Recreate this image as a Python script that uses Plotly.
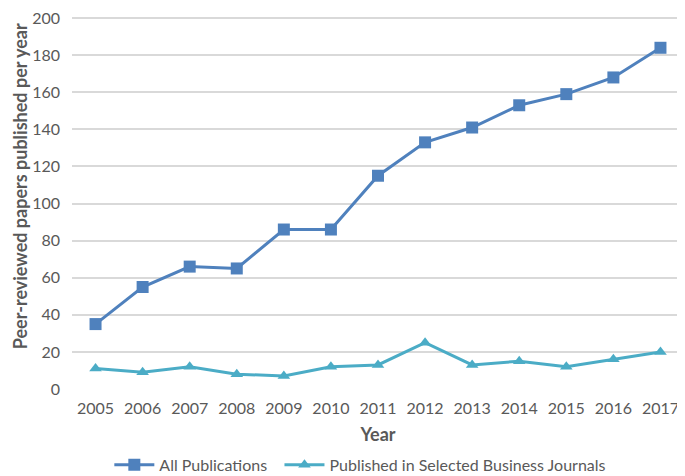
import plotly.graph_objects as go

years = [2005, 2006, 2007, 2008, 2009, 2010, 2011, 2012, 2013, 2014, 2015, 2016, 2017]
all_pubs = [35, 55, 66, 65, 86, 86, 115, 133, 141, 153, 159, 168, 184]
business = [11, 9, 12, 8, 7, 12, 13, 25, 13, 15, 12, 16, 20]

font_family = "Lato, Open Sans, sans-serif"
grey = "#595959"

fig = go.Figure()
fig.add_trace(go.Scatter(
    x=years, y=all_pubs, name="All Publications", mode="lines+markers",
    line=dict(color="#4F81BD", width=3),
    marker=dict(symbol="square", size=12, color="#4F81BD"),
    cliponaxis=False, legend="legend",
))
fig.add_trace(go.Scatter(
    x=years, y=business, name="Published in Selected Business Journals", mode="lines+markers",
    line=dict(color="#4BACC6", width=3),
    marker=dict(symbol="triangle-up", size=11, color="#4BACC6"),
    cliponaxis=False, legend="legend2",
))

legend_common = dict(orientation="h", xanchor="left", y=-0.204, yanchor="middle",
                     font=dict(size=16, color=grey), itemwidth=40,
                     bgcolor="rgba(0,0,0,0)")

# page body has an 8px margin, so the figure is drawn at (8, 8)
fig.update_layout(
    width=677, height=468,
    margin=dict(l=64, r=1, t=9, b=87, autoexpand=False),
    plot_bgcolor="white", paper_bgcolor="white",
    font=dict(family=font_family, size=16, color=grey),
    showlegend=True,
    legend=dict(x=0.061, **legend_common),
    legend2=dict(x=0.339, **legend_common),
    xaxis=dict(
        range=[2004.5, 2017.5], tickmode="array", tickvals=years,
        ticktext=[str(y) for y in years], showgrid=False, zeroline=False,
        showline=False, ticks="", automargin=False, ticklabeloverflow="allow",
        ticklabelstandoff=8,
        title=dict(text="<b>Year</b>", font=dict(size=18, color=grey), standoff=12),
    ),
    yaxis=dict(
        range=[0, 200.6], tickmode="linear", tick0=0, dtick=20,
        showgrid=True, gridcolor="#D9D9D9", gridwidth=1.5,
        zeroline=False, showline=False, ticks="", ticklabelstandoff=11, automargin=False,
        ticklabeloverflow="allow",
    ),
    annotations=[dict(
        text="<b>Peer-reviewed papers published per year</b>", textangle=-90,
        xref="paper", yref="paper", x=-0.085, y=0.545, xanchor="center", yanchor="middle",
        showarrow=False, font=dict(size=18, color=grey),
    )],
)

fig.write_html("out.html")
